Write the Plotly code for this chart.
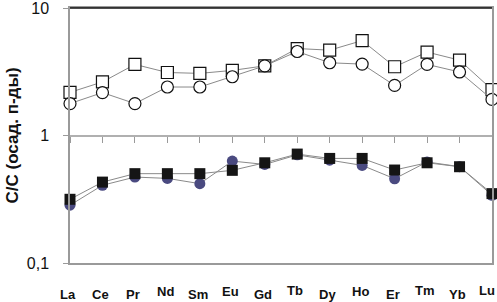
import plotly.graph_objects as go

elements = ["La", "Ce", "Pr", "Nd", "Sm", "Eu", "Gd", "Tb", "Dy", "Ho", "Er", "Tm", "Yb", "Lu"]
open_squares = [2.18, 2.63, 3.61, 3.12, 3.07, 3.24, 3.52, 4.81, 4.67, 5.55, 3.46, 4.51, 3.90, 2.29]
open_circles = [1.78, 2.17, 1.78, 2.40, 2.40, 2.89, 3.52, 4.56, 3.72, 3.63, 2.47, 3.61, 3.15, 1.92]
filled_squares = [0.316, 0.431, 0.502, 0.502, 0.502, 0.533, 0.611, 0.715, 0.661, 0.661, 0.536, 0.611, 0.569, 0.350]
filled_circles = [0.284, 0.407, 0.472, 0.461, 0.419, 0.630, 0.593, 0.705, 0.641, 0.583, 0.458, 0.620, 0.570, 0.340]
y_tickvals = [0.1, 1, 10]
y_ticktext = ["0,1", "1", "10"]
y_title = "C/C (осад. п-ды)"

# style: slight vertical stagger of the element labels, as in the scan (pixels)
label_lift = [0, 0, 0, 3, 0, 3, 0, 4, 0, 3, 0, 4, 0, 4]

xi = list(range(len(elements)))
line_col = "#8a8a8a"
font_main = "Liberation Sans, Arial"

fig = go.Figure()
fig.add_trace(go.Scatter(x=xi, y=open_squares, mode="lines+markers",
                         line=dict(color=line_col, width=1),
                         marker=dict(symbol="square", size=12, color="white",
                                     line=dict(color="#111111", width=1.2)),
                         cliponaxis=False))
fig.add_trace(go.Scatter(x=xi, y=open_circles, mode="lines+markers",
                         line=dict(color=line_col, width=1),
                         marker=dict(symbol="circle", size=12, color="white",
                                     line=dict(color="#111111", width=1.2)),
                         cliponaxis=False))
fig.add_trace(go.Scatter(x=xi, y=filled_circles, mode="lines+markers",
                         line=dict(color=line_col, width=1),
                         marker=dict(symbol="circle", size=11, color="#4a4a80",
                                     line=dict(width=0)),
                         cliponaxis=False))
fig.add_trace(go.Scatter(x=xi, y=filled_squares, mode="lines+markers",
                         line=dict(color=line_col, width=1),
                         marker=dict(symbol="square", size=11, color="#151515",
                                     line=dict(width=0)),
                         cliponaxis=False))
# invisible trace to carry the axis drawn at y=1
fig.add_trace(go.Scatter(x=xi, y=[1] * len(xi), xaxis="x2", mode="lines",
                         line=dict(width=0), hoverinfo="skip", showlegend=False))

annotations = []
for i, (name, lift) in enumerate(zip(elements, label_lift)):
    last = i == len(elements) - 1
    annotations.append(dict(
        text=name, x=i, xref="x", y=0, yref="paper", yanchor="top",
        xanchor="right" if last else "center",
        xshift=5 if last else -2, yshift=-22 + lift, showarrow=False,
        font=dict(size=13, family=font_main, color="#111111", weight="bold")))
annotations.append(dict(text=y_title, xref="paper", yref="paper", x=0, y=0.5,
                        xshift=-58, xanchor="center", yanchor="middle", textangle=-90,
                        showarrow=False,
                        font=dict(size=17, family=font_main, color="#111111",
                                  weight="bold")))

fig.update_layout(
    width=497, height=302,
    margin=dict(l=70, r=5, t=8, b=39),
    paper_bgcolor="white", plot_bgcolor="white",
    showlegend=False,
    font=dict(family=font_main, color="#111111"),
    xaxis=dict(range=[0, 13], tickmode="array", tickvals=xi, showticklabels=False,
               automargin=False,
               showgrid=False, zeroline=False, showline=True, linecolor="#9a9a9a",
               linewidth=1.5, mirror=True, ticks=""),
    xaxis2=dict(range=[0, 13], overlaying="x", anchor="free", position=0.5,
                domain=[0, 1], automargin=False,
                showgrid=False, zeroline=False, showline=True, linecolor="#b0b0b0",
                linewidth=2, ticks="outside", ticklen=6, tickcolor="#9a9a9a",
                tickvals=xi, showticklabels=False, side="bottom"),
    yaxis=dict(type="log", range=[-1, 1], tickvals=y_tickvals, ticktext=y_ticktext,
               automargin=False, ticklabeloverflow="allow", ticklabelstandoff=11,
               showgrid=False, zeroline=False, showline=True, linecolor="#9a9a9a",
               linewidth=1.5, mirror=True, ticks="outside", ticklen=5, tickcolor="#9a9a9a",
               tickfont=dict(size=16, family=font_main, color="#111111")),
    shapes=[dict(type="line", xref="paper", yref="paper", x0=0, x1=1, y0=1, y1=1,
                 line=dict(color="#111111", width=1.5))],
    annotations=annotations,
)

fig.write_html("out.html", config={"displayModeBar": False},
               post_script="document.body.style.margin='0';document.body.style.overflow='hidden';")
